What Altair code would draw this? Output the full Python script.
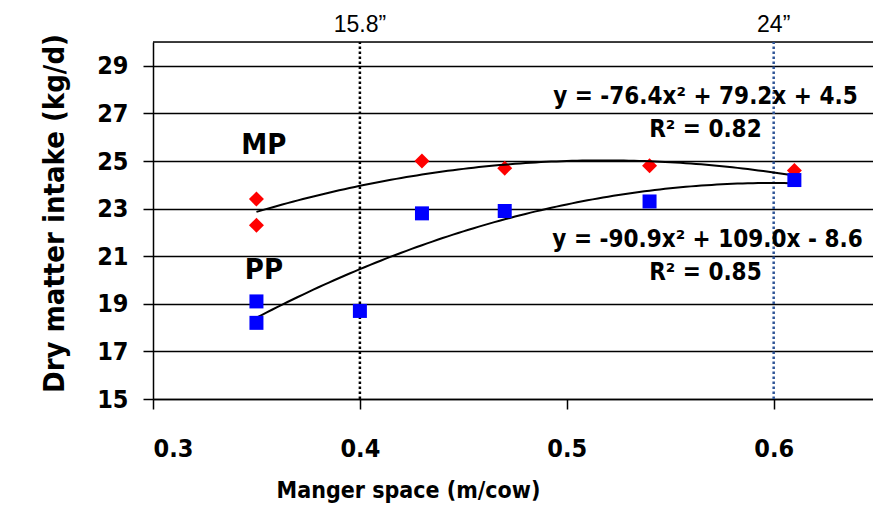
import altair as alt
import pandas as pd

# Observed dry matter intake by manger space
mp_x = [0.35, 0.35, 0.43, 0.47, 0.54, 0.61]
mp_y = [23.4, 22.3, 25.0, 24.7, 24.8, 24.6]
pp_x = [0.35, 0.35, 0.40, 0.43, 0.47, 0.54, 0.61]
pp_y = [19.1, 18.2, 18.7, 22.8, 22.9, 23.3, 24.2]

# Quadratic fit coefficients (a, b, c) for y = a*x^2 + b*x + c
mp_coef = [-76.4, 79.2, 4.5]
pp_coef = [-90.9, 109.0, -8.6]
fit_range = [0.35, 0.61]

# Text annotations
group_labels = ["MP", "PP"]
group_label_x = [0.3536, 0.3536]
group_label_y = [25.67, 20.42]

eq_labels = ["y = -76.4x² + 79.2x + 4.5", "R² = 0.82",
             "y = -90.9x² + 109.0x - 8.6", "R² = 0.85"]
eq_x = [0.567, 0.567, 0.568, 0.567]
eq_y = [27.69, 26.30, 21.68, 20.29]

# Reference manger widths
ref_x = [0.40, 0.60]
ref_labels = ["15.8\u201d", "24\u201d"]
ref_colors = ["#000000", "#2f5597"]

X_DOMAIN = [0.3, 0.648]
Y_DOMAIN = [15, 30]
BOLD_FONT = "DejaVu Sans Condensed"

xs = alt.Scale(domain=X_DOMAIN, nice=False, zero=False)
ys = alt.Scale(domain=Y_DOMAIN, nice=False, zero=False)

mp_df = pd.DataFrame({"x": mp_x, "y": mp_y})
pp_df = pd.DataFrame({"x": pp_x, "y": pp_y})

x_enc = alt.X("x:Q", scale=xs, title="Manger space (m/cow)",
              axis=alt.Axis(values=[0.3, 0.4, 0.5, 0.6], format=".1f", grid=False,
                            tickSize=10, tickWidth=1.5, tickColor="black",
                            domainColor="black", domainWidth=1.5,
                            labelFont=BOLD_FONT, labelFontWeight="bold", labelFontSize=25,
                            labelColor="black", labelPadding=27,
                            titleFont=BOLD_FONT, titleFontWeight="bold", titleFontSize=23,
                            titleColor="black", titlePadding=18, titleX=255))
y_enc = alt.Y("y:Q", scale=ys, title="Dry matter intake (kg/d)",
              axis=alt.Axis(values=[15, 17, 19, 21, 23, 25, 27, 29], grid=True,
                            gridColor="black", gridWidth=1.3, gridOpacity=1,
                            tickSize=10, tickWidth=1.5, tickColor="black",
                            domainColor="black", domainWidth=1.5,
                            labelFont=BOLD_FONT, labelFontWeight="bold", labelFontSize=25,
                            labelColor="black", labelPadding=15,
                            titleFont=BOLD_FONT, titleFontWeight="bold", titleFontSize=29,
                            titleColor="black", titlePadding=27, titleY=171))

base_pts = alt.Chart(mp_df).mark_point(shape="diamond", filled=True, color="#ff0000",
                                       size=225, opacity=1).encode(x=x_enc, y=y_enc)
pp_pts = alt.Chart(pp_df).mark_point(shape="square", filled=True, color="#0000ff",
                                     size=196, opacity=1).encode(
    x=alt.X("x:Q", scale=xs), y=alt.Y("y:Q", scale=ys))


def fit_curve(coef):
    a, b, c = coef
    return alt.Chart(alt.sequence(fit_range[0], fit_range[1] + 0.001, 0.0025, as_="x")).transform_calculate(
        y=f"{a}*datum.x*datum.x + {b}*datum.x + {c}"
    ).mark_line(color="black", strokeWidth=2).encode(
        x=alt.X("x:Q", scale=xs), y=alt.Y("y:Q", scale=ys)
    )


mp_fit = fit_curve(mp_coef)
pp_fit = fit_curve(pp_coef)

# Top border of the plot area
top_rule = alt.Chart(pd.DataFrame({"y": [Y_DOMAIN[1]]})).mark_rule(
    color="black", strokeWidth=1.3).encode(y=alt.Y("y:Q", scale=ys))

ref_df = pd.DataFrame({"x": ref_x, "label": ref_labels, "color": ref_colors,
                       "y0": [Y_DOMAIN[0]] * 2, "y1": [Y_DOMAIN[1]] * 2,
                       "ty": [30.72, 30.72]})
ref_rules = alt.Chart(ref_df).mark_rule(strokeWidth=2.5, strokeDash=[2.5, 2.5]).encode(
    x=alt.X("x:Q", scale=xs), y=alt.Y("y0:Q", scale=ys), y2="y1:Q",
    color=alt.Color("color:N", scale=None))
ref_text = alt.Chart(ref_df).mark_text(font="Liberation Sans", fontSize=23,
                                       color="black").encode(
    x=alt.X("x:Q", scale=xs), y=alt.Y("ty:Q", scale=ys), text="label:N")

grp_df = pd.DataFrame({"x": group_label_x, "y": group_label_y, "t": group_labels})
grp_text = alt.Chart(grp_df).mark_text(font=BOLD_FONT, fontWeight="bold", fontSize=29,
                                       color="black").encode(
    x=alt.X("x:Q", scale=xs), y=alt.Y("y:Q", scale=ys), text="t:N")

eq_df = pd.DataFrame({"x": eq_x, "y": eq_y, "t": eq_labels})
eq_text = alt.Chart(eq_df).mark_text(font=BOLD_FONT, fontWeight="bold", fontSize=24,
                                     color="black").encode(
    x=alt.X("x:Q", scale=xs), y=alt.Y("y:Q", scale=ys), text="t:N")

chart = alt.layer(
    base_pts, top_rule, ref_rules, mp_fit, pp_fit, pp_pts, ref_text, grp_text, eq_text
).properties(
    width=720, height=357,
    autosize=alt.AutoSizeParams(type="none"),
    padding={"left": 153, "top": 42, "right": 0, "bottom": 115},
).configure_view(stroke=None).configure(background="white")

chart.save("out.html", embed_options={"renderer": "svg", "actions": False})
